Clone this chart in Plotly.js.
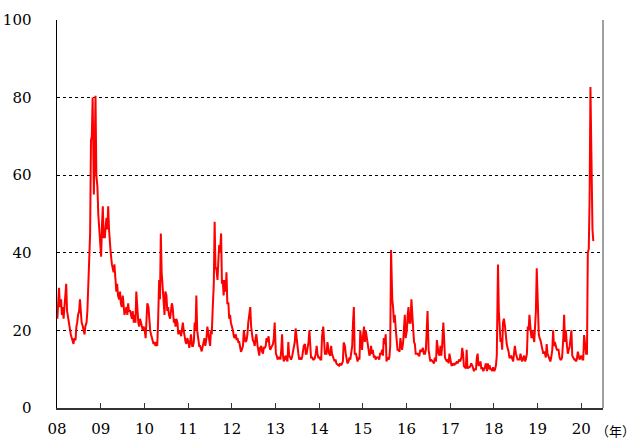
<!DOCTYPE html>
<html>
<head>
<meta charset="utf-8">
<script src="https://cdn.plot.ly/plotly-3.0.1.min.js"></script>
<style>html,body{margin:0;padding:0;background:#fff;}#chart{width:634px;height:439px;}</style>
</head>
<body>
<div id="chart"></div>
<script>
// VIX-like index, approx. weekly readings (4 per month)
const v2008 = [23,27,31,26, 28,24,26,23, 26,30,32,25, 23,21,20,19, 18,17,16.5,18, 17.5,21,22,24, 25,28,24,22, 21,20,19,21, 22,25,33,40, 45,69,70,80, 55,66,80.5,60, 57,50,46,42];
const v2009 = [39,47,52,44, 44,47,49,46, 52,46,42,40, 37,36,35,37, 32,30,32,29, 28,30,27,26, 29,25,24,25, 26,24,27,25, 25,24,23,25, 22,24,22,30, 24,22,21,23, 22,21,20,21];
const v2010 = [20,18,22,27, 26,22,20,19, 18,17,16.5,17, 16,17,16,22, 33,28,45,35, 30,27,24,30, 29,25,26,24, 23,25,27,26, 22,23,21,23, 22,19,19.5,20, 18.5,21,22,20, 18,17,16.5,18];
const v2011 = [17,15.5,17,19, 16,16,17,22, 20,29,20,17.5, 16,16,15,14.6, 16,17,18,16, 18,21,19,17, 16,20,19,25, 32,48,36,36, 33,38,42,40, 45,32,33,29, 33,30,35,27, 27,23,24,22];
const v2012 = [21,20,18.5,18, 19,17.5,18,17, 17,15,14.5,15, 16,20,18,17, 17.5,19,22,24, 26,21,19,17.5, 17,16,18,19, 16,15,13.5,15.5, 16,14.5,14,15.5, 15.5,16,18,17, 18.5,16,15,15.5, 16,16.5,18,22];
const v2013 = [14,13.5,12.5,13, 13,12.5,15,19, 13.5,12,12.5,13.5, 12.5,12,17,13.5, 13,12.5,13,14, 16,17,20.5,18, 16,14,12.5,13, 12.5,13,14.5,16, 16.5,14,14,15, 17,20,14,13, 13,12.5,12.5,12.8, 14,16,14,13];
const v2014 = [13,12.5,12.5,18.5, 21,15,14,14, 14,17,15,14, 13.5,16,14,13, 12.5,12,12.5,11.5, 11,11,10.9,11.5, 11,11.5,12,16.9, 16,14,12,11.5, 12,13,12.5,15, 16,22,26,14, 14,13,12,13, 12.5,20,16,15];
const v2015 = [19,21,17,20, 18,16,14,13.5, 14,16,14,15, 13,13.5,12.5,13, 13,13,12.5,14, 14,15,13.5,18, 16.5,19,12,13, 12.5,13,16,40.7, 28,26,22,24, 20,17,15,15, 14.5,18,16,15, 17,22,24,18];
const v2016 = [20,24,26,22, 22,28,24,20, 17,16.5,14,14, 14,13.5,13.5,15, 14.5,15,15.5,14, 14,15,19,25, 15,13,12,12.5, 12,11.5,11.5,13, 12,17.5,15,14, 13.5,16,13.5,16, 22,14,13,12.5, 12,12.5,11.5,14];
const v2017 = [11.5,11,11,11.5, 11,11.5,11.5,12, 11.5,12,12.5,12, 13,15.5,14,10.8, 10.5,10.2,15,10.2, 10.5,10.5,10.8,11.5, 11,10,9.5,10, 10,13,14,11, 11,12,10,10.5, 9.5,10,10.5,11.5, 9.5,11.5,10,11, 10,10,9.5,10.5];
const v2018 = [9.5,10,11,13.5, 37,25,19,17, 18,15,22,23, 21,18,16.5,15.5, 14.5,13,13,13.5, 12.5,12,14,16, 14,13,12.5,12.5, 12.5,14,12.5,12, 13,13.5,12,12.5, 14,21,20,24, 20,18,20,18, 17,21,25,36];
const v2019 = [23,19,18,17.5, 16,15,14,14.5, 14,13,16.5,14, 13,12.5,12,13, 15,20,16,17, 16,15,15,15, 13,12.5,12.5,13, 18,24,17,20, 16,14,15,15.5, 18,20,13.5,13, 12.5,12.5,12,12.5, 14.5,13.5,12.5,13];
const v2020 = [13.5,12.5,12.5,18.8, 15,14,14,40, 41,54,82.7,61, 46,43];

const years = [2008,2009,2010,2011,2012,2013,2014,2015,2016,2017,2018,2019,2020];
const yearValues = [v2008,v2009,v2010,v2011,v2012,v2013,v2014,v2015,v2016,v2017,v2018,v2019,v2020];
const weekDays = ['04','11','18','25'];

const tickDates = ['2008-01-01','2009-01-01','2010-01-01','2011-01-01','2012-01-01','2013-01-01','2014-01-01','2015-01-01','2016-01-01','2017-01-01','2018-01-01','2019-01-01','2020-01-01'];
const tickLabels = ['08','09','10','11','12','13','14','15','16','17','18','19','20'];

const xs = [], ys = [];
years.forEach((yr, i) => {
  yearValues[i].forEach((v, j) => {
    const m = Math.floor(j / 4) + 1;
    xs.push(yr + '-' + String(m).padStart(2,'0') + '-' + weekDays[j % 4]);
    ys.push(v);
  });
});

const font = {family: 'DejaVu Serif', size: 15, color: '#000'};

Plotly.newPlot('chart', [{
  x: xs, y: ys, type: 'scatter', mode: 'lines',
  line: {color: '#ff0000', width: 2},
  hoverinfo: 'skip'
}], {
  width: 634, height: 439,
  margin: {l: 57, r: 31, t: 20, b: 31},
  paper_bgcolor: '#fff', plot_bgcolor: '#fff',
  showlegend: false,
  font: font,
  xaxis: {
    type: 'date',
    range: ['2008-01-01', '2020-07-01'],
    tickvals: tickDates, ticktext: tickLabels,
    ticks: 'inside', ticklen: 5, tickwidth: 1, tickcolor: '#333',
    showline: true, linecolor: '#333', linewidth: 1.5,
    showgrid: false, zeroline: false,
    ticklabelstandoff: 6,
    tickfont: font
  },
  yaxis: {
    range: [0, 100],
    tickvals: [0,20,40,60,80,100],
    ticktext: ['0','20','40','60','80','100'],
    ticks: '',
    showline: true, linecolor: '#000', linewidth: 1.5,
    showgrid: true, gridcolor: '#000', gridwidth: 1, griddash: '3px,3px',
    zeroline: false,
    ticklabelstandoff: 21,
    tickfont: font
  },
  shapes: [{
    type: 'line', xref: 'paper', yref: 'paper', x0: 1, x1: 1, y0: 0, y1: 1,
    line: {color: '#808080', width: 1.5}
  }],
  annotations: [{
    text: '（年）', xref: 'paper', yref: 'paper', x: 1.022, y: -0.057,
    xanchor: 'center', yanchor: 'middle', showarrow: false,
    font: {family: 'Noto Sans CJK JP', size: 13, color: '#000'}
  }]
}, {displayModeBar: false, staticPlot: true});
</script>
</body>
</html>
